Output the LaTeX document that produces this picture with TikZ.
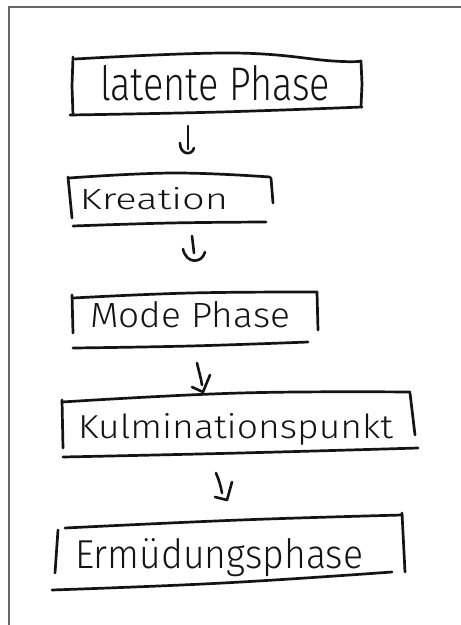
\documentclass[tikz,border=0pt]{standalone}
\usepackage{fontspec}
\setmainfont{Fira Sans}[UprightFont=* Light]
\usepackage{graphicx}
% scale a label to a given width and height above its baseline
\newcommand{\hwlabel}[3]{\resizebox{#1}{#2}{#3}}
\begin{document}
\begin{tikzpicture}[x=1pt,y=-1pt,
  pen/.style={line width=2.7pt,line cap=round,line join=round,color=black!92},
  penarrow/.style={line width=2.6pt,line cap=round,line join=round,color=black!92},
  label/.style={inner sep=0pt,outer sep=0pt,anchor=base west,text=black!92},
  frameline/.style={line width=1.1pt,color=black!60}]
\useasboundingbox (0,0) rectangle (461,625);
\fill[white] (0,0) rectangle (461,625);

% sheet edge
\coordinate (fTL) at (9,7);
\coordinate (fTR) at (461,7);
\coordinate (fBL) at (9,625);
\draw[frameline] (fTR) -- (fTL) -- (fBL);

% labels
\node[label] (t1) at (100,100) {\hwlabel{230pt}{35pt}{latente Phase}};
\node[label] (t2) at (80,209)  {\hwlabel{148pt}{22pt}{Kreation}};
\node[label] (t3) at (90,327)  {\hwlabel{200pt}{26pt}{Mode Phase}};
\node[label] (t4) at (78,438)  {\hwlabel{315pt}{25pt}{Kulminationspunkt}};
\node[label] (t5) at (75,568)  {\hwlabel{288pt}{30pt}{Ermüdungsphase}};

% box 1
\draw[pen] (73,57) -- (72,86) -- (73,115);
\draw[pen] plot[smooth,tension=0.7] coordinates {(75,59) (233,53) (333,61) (361,61)};
\draw[pen] (361,61) -- (362,84) -- (361,107);
\draw[pen] plot[smooth,tension=0.7] coordinates {(70,115) (220,112) (362,107)};

% box 2
\draw[pen] (68,177) -- (72,218);
\draw[pen] plot[smooth,tension=0.7] coordinates {(69,178) (173,173) (270,177)};
\draw[pen] (271,178) -- (273,203);
\draw[pen] plot[smooth,tension=0.7] coordinates {(73,226) (170,223) (266,222)};

% box 3
\draw[pen] (72,295) -- (73,333);
\draw[pen] plot[smooth,tension=0.7] coordinates {(73,298) (190,293) (317,292)};
\draw[pen] (317,292) -- (318,330);
\draw[pen] plot[smooth,tension=0.7] coordinates {(73,348) (190,346) (308,342)};

% box 4
\draw[pen] (62,400) -- (63,448);
\draw[pen] plot[smooth,tension=0.7] coordinates {(62,402) (240,393) (410,392)};
\draw[pen] (410,393) -- (415,435);
\draw[pen] plot[smooth,tension=0.7] coordinates {(63,457) (240,453) (418,448)};

% box 5
\draw[pen] (58,530) -- (55,573);
\draw[pen] plot[smooth,tension=0.7] coordinates {(65,528) (240,520) (402,515)};
\draw[pen] (402,513) -- (405,572);
\draw[pen] plot[smooth,tension=0.7] coordinates {(52,590) (223,583) (392,572)};

% arrows between the stages
\coordinate (a1s) at (188,126); \coordinate (a1e) at (188,149);
\draw[penarrow] (a1s) -- (a1e);
\draw[penarrow] (180,143) .. controls (180,155) and (192,156) .. (194,148);

\coordinate (a2s) at (192,236); \coordinate (a2e) at (194,253);
\draw[penarrow] (a2s) -- (a2e);
\draw[penarrow] (183,249) .. controls (186,264) and (202,264) .. (205,252);

\coordinate (a3s) at (197,363); \coordinate (a3e) at (202,385);
\draw[penarrow] (a3s) .. controls (199,372) and (201,378) .. (a3e);
\draw[penarrow] (192,387) -- (203,392) -- (210,375);

\coordinate (a4s) at (216,473); \coordinate (a4e) at (222,493);
\draw[penarrow] (a4s) .. controls (219,480) and (221,487) .. (a4e);
\draw[penarrow] (215,497) -- (227,500) -- (232,482);
\end{tikzpicture}
\end{document}
